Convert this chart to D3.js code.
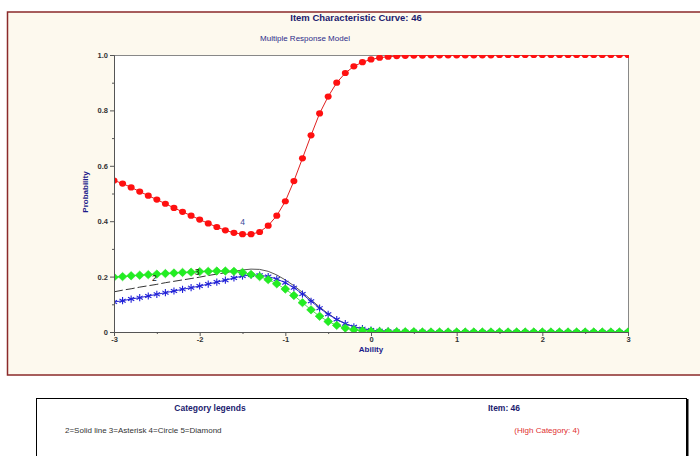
<!DOCTYPE html>
<html>
<head>
<meta charset="utf-8">
<script src="https://cdn.jsdelivr.net/npm/d3@7"></script>
<style>
  html, body { margin: 0; padding: 0; background: #ffffff; }
  svg { display: block; font-family: Arial, "Liberation Sans", sans-serif; }
</style>
</head>
<body>
<svg id="chart" width="700" height="456"></svg>
<script>
// Ability grid (theta) at which each category probability is evaluated
const ability = [
  -3.0, -2.9, -2.8, -2.7, -2.6, -2.5, -2.4, -2.3, -2.2, -2.1,
  -2.0, -1.9, -1.8, -1.7, -1.6, -1.5, -1.4, -1.3, -1.2, -1.1,
  -1.0, -0.9, -0.8, -0.7, -0.6, -0.5, -0.4, -0.3, -0.2, -0.1,
   0.0,  0.1,  0.2,  0.3,  0.4,  0.5,  0.6,  0.7,  0.8,  0.9,
   1.0,  1.1,  1.2,  1.3,  1.4,  1.5,  1.6,  1.7,  1.8,  1.9,
   2.0,  2.1,  2.2,  2.3,  2.4,  2.5,  2.6,  2.7,  2.8,  2.9, 3.0
];

// Category 2 (solid line)
const cat2 = [
  0.145, 0.151, 0.156, 0.162, 0.167, 0.172, 0.178, 0.183, 0.188, 0.193,
  0.198, 0.204, 0.209, 0.214, 0.219, 0.224, 0.227, 0.226, 0.219, 0.206,
  0.188, 0.167, 0.143, 0.116, 0.090, 0.066, 0.046, 0.030, 0.019, 0.012,
  0.007, 0.004, 0.003, 0.002, 0.001, 0.001, 0.001, 0.000, 0.000, 0.000,
  0.000, 0.000, 0.000, 0.000, 0.000, 0.000, 0.000, 0.000, 0.000, 0.000,
  0.000, 0.000, 0.000, 0.000, 0.000, 0.000, 0.000, 0.000, 0.000, 0.000, 0.000
];

// Category 3 (asterisk)
const cat3 = [
  0.108, 0.113, 0.119, 0.124, 0.130, 0.136, 0.142, 0.148, 0.154, 0.160,
  0.166, 0.173, 0.180, 0.187, 0.195, 0.202, 0.206, 0.205, 0.200, 0.191,
  0.178, 0.160, 0.137, 0.111, 0.086, 0.064, 0.045, 0.030, 0.019, 0.012,
  0.007, 0.004, 0.003, 0.002, 0.001, 0.001, 0.001, 0.000, 0.000, 0.000,
  0.000, 0.000, 0.000, 0.000, 0.000, 0.000, 0.000, 0.000, 0.000, 0.000,
  0.000, 0.000, 0.000, 0.000, 0.000, 0.000, 0.000, 0.000, 0.000, 0.000, 0.000
];

// Category 4 (circle) - high category
const cat4 = [
  0.547, 0.536, 0.522, 0.507, 0.492, 0.478, 0.463, 0.448, 0.434, 0.420,
  0.406, 0.392, 0.379, 0.367, 0.358, 0.353, 0.353, 0.361, 0.384, 0.420,
  0.472, 0.545, 0.627, 0.710, 0.789, 0.850, 0.900, 0.935, 0.959, 0.974,
  0.984, 0.990, 0.994, 0.996, 0.997, 0.998, 0.998, 0.999, 0.999, 0.999,
  0.999, 0.999, 0.999, 0.999, 0.999, 1.000, 1.000, 1.000, 1.000, 1.000,
  1.000, 1.000, 1.000, 1.000, 1.000, 1.000, 1.000, 1.000, 1.000, 1.000, 1.000
];

// Category 5 (diamond)
const cat5 = [
  0.198, 0.200, 0.203, 0.205, 0.207, 0.209, 0.211, 0.213, 0.215, 0.216,
  0.218, 0.219, 0.220, 0.220, 0.219, 0.215, 0.208, 0.200, 0.189, 0.174,
  0.155, 0.132, 0.106, 0.080, 0.057, 0.038, 0.024, 0.014, 0.008, 0.005,
  0.003, 0.002, 0.001, 0.001, 0.001, 0.001, 0.000, 0.000, 0.000, 0.000,
  0.000, 0.000, 0.000, 0.000, 0.000, 0.000, 0.000, 0.000, 0.000, 0.000,
  0.000, 0.000, 0.000, 0.000, 0.000, 0.000, 0.000, 0.000, 0.000, 0.000, 0.000
];

// Axis ticks
const xTicks = [-3, -2, -1, 0, 1, 2, 3];
const xMinorTicks = [-2.5, -1.5, -0.5, 0.5, 1.5, 2.5];
const yTicks = [0, 0.2, 0.4, 0.6, 0.8, 1.0];
const yMinorTicks = [0.1, 0.3, 0.5, 0.7, 0.9];

// Curve number labels placed near the curves: [text, ability, probability]
const curveLabels = [["2", -2.53, 0.183], ["3", -2.03, 0.204], ["4", -1.5, 0.385]];

// Texts
const titleText = "Item Characteristic Curve: 46";
const subtitleText = "Multiple Response Model";
const legendTitle = "Category legends";
const legendItem = "Item: 46";
const legendLine = "2=Solid line 3=Asterisk 4=Circle 5=Diamond";
const legendHigh = "(High Category: 4)";

const svg = d3.select("#chart");

// Outer chart panel
svg.append("rect")
  .attr("x", 7.5).attr("y", 12).attr("width", 700).attr("height", 363)
  .attr("fill", "#fdf9ee").attr("stroke", "#8b2a2a").attr("stroke-width", 1.5);

const plot = { left: 114, right: 628, top: 55, bottom: 332 };

const x = d3.scaleLinear().domain([-3, 3]).range([plot.left, plot.right]);
const y = d3.scaleLinear().domain([0, 1]).range([plot.bottom, plot.top]);

// Clip region for the curves and markers
svg.append("defs").append("clipPath").attr("id", "plot-clip")
  .append("rect")
  .attr("x", plot.left).attr("y", plot.top)
  .attr("width", plot.right - plot.left + 1).attr("height", plot.bottom - plot.top);

// White plotting area
svg.append("rect")
  .attr("x", plot.left).attr("y", plot.top)
  .attr("width", plot.right - plot.left).attr("height", plot.bottom - plot.top)
  .attr("fill", "#ffffff");

// Frame lines (top and right)
svg.append("line").attr("x1", plot.left).attr("x2", plot.right)
  .attr("y1", plot.top + 0.5).attr("y2", plot.top + 0.5)
  .attr("stroke", "#888").attr("stroke-width", 1);
svg.append("line").attr("x1", plot.right + 0.5).attr("x2", plot.right + 0.5)
  .attr("y1", plot.top).attr("y2", plot.bottom)
  .attr("stroke", "#888").attr("stroke-width", 1);

// Titles
svg.append("text").attr("x", 356).attr("y", 21)
  .attr("text-anchor", "middle").attr("font-size", 9.5).attr("font-weight", "bold")
  .attr("fill", "#1b1b6e").text(titleText);
svg.append("text").attr("x", 305).attr("y", 41)
  .attr("text-anchor", "middle").attr("font-size", 8)
  .attr("fill", "#2b2b8a").text(subtitleText);

// Series data as point objects
const pts = arr => ability.map((a, i) => ({ a, p: arr[i] }));
const line = d3.line().x(d => x(d.a)).y(d => y(d.p));

const curves = svg.append("g").attr("clip-path", "url(#plot-clip)");

// Category 2: long-dashed at low ability, solid afterwards
const c2 = pts(cat2);
const splitIdx = ability.indexOf(-1.7);
curves.append("path").datum(c2.slice(0, splitIdx + 1))
  .attr("d", line).attr("fill", "none")
  .attr("stroke", "#333").attr("stroke-width", 1).attr("stroke-dasharray", "9,3");
curves.append("path").datum(c2.slice(splitIdx))
  .attr("d", line).attr("fill", "none")
  .attr("stroke", "#555").attr("stroke-width", 1);

// Category 3: blue line with asterisks
const c3 = pts(cat3);
curves.append("path").datum(c3).attr("d", line).attr("fill", "none")
  .attr("stroke", "#2a2ad0").attr("stroke-width", 1);
const star = curves.append("g").selectAll("g").data(c3).join("g")
  .attr("transform", d => `translate(${x(d.a)},${y(d.p)})`);
[0, 60, 120].forEach(ang => {
  star.append("line")
    .attr("x1", 0).attr("y1", -3.6).attr("x2", 0).attr("y2", 3.6)
    .attr("transform", `rotate(${ang})`)
    .attr("stroke", "#2020d8").attr("stroke-width", 1.1);
});

// Category 5: green diamonds
const c5 = pts(cat5);
curves.append("path").datum(c5).attr("d", line).attr("fill", "none")
  .attr("stroke", "#55e055").attr("stroke-width", 1);
curves.append("g").selectAll("path").data(c5).join("path")
  .attr("transform", d => `translate(${x(d.a)},${y(d.p)})`)
  .attr("d", "M0,-4.2L4.4,0L0,4.2L-4.4,0Z")
  .attr("fill", "#22ee22").attr("stroke", "#22dd22").attr("stroke-width", 0.6);

// Category 4: red circles
const c4 = pts(cat4);
curves.append("path").datum(c4).attr("d", line).attr("fill", "none")
  .attr("stroke", "#e02020").attr("stroke-width", 1);
curves.append("g").selectAll("ellipse").data(c4).join("ellipse")
  .attr("cx", d => x(d.a)).attr("cy", d => y(d.p))
  .attr("rx", 3.5).attr("ry", 3.1)
  .attr("fill", "#ff1010");

// Axes (drawn over the clipped curves)
const tickFont = g => g.selectAll("text")
  .attr("font-size", 7.5).attr("font-weight", "bold").attr("fill", "#333")
  .attr("font-family", "Arial, 'Liberation Sans', sans-serif");

const yAxis = svg.append("g").attr("transform", `translate(${plot.left},0)`)
  .call(d3.axisLeft(y).tickValues(yTicks).tickSize(4).tickPadding(2)
    .tickFormat(d => d === 0 ? "0" : d.toFixed(1)))
  .call(tickFont);
yAxis.select(".domain").attr("stroke", "#555");
yAxis.selectAll(".tick line").attr("stroke", "#555");
svg.append("g").attr("transform", `translate(${plot.left},0)`)
  .call(d3.axisLeft(y).tickValues(yMinorTicks).tickSize(2).tickFormat(""))
  .call(g => g.select(".domain").remove())
  .call(g => g.selectAll(".tick line").attr("stroke", "#555"));

const xAxis = svg.append("g").attr("transform", `translate(0,${plot.bottom})`)
  .call(d3.axisBottom(x).tickValues(xTicks).tickSize(4).tickPadding(1)
    .tickFormat(d => String(d)))
  .call(tickFont);
xAxis.select(".domain").attr("stroke", "#555");
xAxis.selectAll(".tick line").attr("stroke", "#555");
svg.append("g").attr("transform", `translate(0,${plot.bottom})`)
  .call(d3.axisBottom(x).tickValues(xMinorTicks).tickSize(2).tickFormat(""))
  .call(g => g.select(".domain").remove())
  .call(g => g.selectAll(".tick line").attr("stroke", "#555"));

// Axis titles
svg.append("text").attr("x", 371).attr("y", 352)
  .attr("text-anchor", "middle").attr("font-size", 8).attr("font-weight", "bold")
  .attr("fill", "#1b1b8a").text("Ability");
svg.append("text")
  .attr("transform", "translate(88,192) rotate(-90)")
  .attr("text-anchor", "middle").attr("font-size", 8).attr("font-weight", "bold")
  .attr("fill", "#1b1b8a").text("Probability");

// Curve number labels
svg.append("g").selectAll("text").data(curveLabels).join("text")
  .attr("x", d => x(d[1])).attr("y", d => y(d[2]))
  .attr("text-anchor", "middle").attr("font-size", 8.5)
  .attr("fill", d => d[0] === "4" ? "#3a4a9a" : "#111")
  .text(d => d[0]);

// Legend box
svg.append("rect")
  .attr("x", 36.5).attr("y", 398.5).attr("width", 650).attr("height", 80)
  .attr("fill", "#ffffff").attr("stroke", "#000").attr("stroke-width", 1);
svg.append("line").attr("x1", 687.5).attr("x2", 687.5).attr("y1", 399).attr("y2", 456)
  .attr("stroke", "#000").attr("stroke-width", 2);

svg.append("text").attr("x", 210).attr("y", 411)
  .attr("text-anchor", "middle").attr("font-size", 8.5).attr("font-weight", "bold")
  .attr("fill", "#1b1b6e").text(legendTitle);
svg.append("text").attr("x", 504).attr("y", 411)
  .attr("text-anchor", "middle").attr("font-size", 8.5).attr("font-weight", "bold")
  .attr("fill", "#1b1b6e").text(legendItem);
svg.append("text").attr("x", 65).attr("y", 433)
  .attr("font-size", 8).attr("fill", "#333").text(legendLine);
svg.append("text").attr("x", 547).attr("y", 433)
  .attr("text-anchor", "middle").attr("font-size", 8).attr("fill", "#e03030").text(legendHigh);
</script>
</body>
</html>
